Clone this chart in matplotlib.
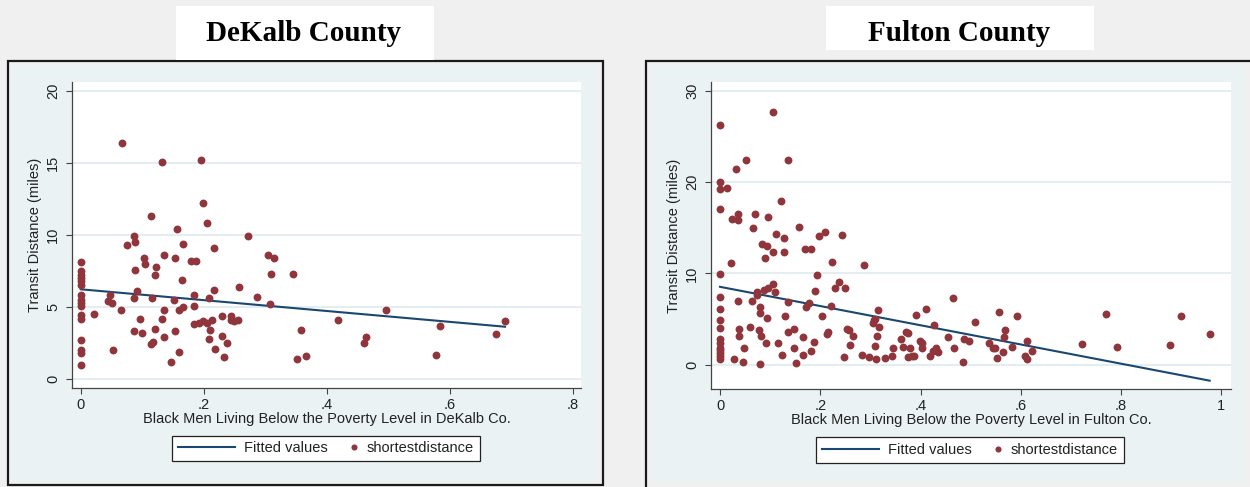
import matplotlib
matplotlib.use('Agg')
import matplotlib.pyplot as plt
from matplotlib.patches import Rectangle
from matplotlib.lines import Line2D
from matplotlib.legend_handler import HandlerBase

# ---- data ----
dekalb_x = [0, 0, 0, 0, 0, 0, 0, 0, 0, 0, 0, 0, 0, 0, 0, 0,
            0.022, 0.048, 0.044, 0.051, 0.065, 0.053, 0.067, 0.076, 0.087, 0.089,
            0.089, 0.092, 0.087, 0.096, 0.087, 0.099, 0.103, 0.105, 0.115, 0.116,
            0.121, 0.114, 0.117, 0.122, 0.121, 0.133, 0.135, 0.135, 0.132, 0.136,
            0.147, 0.154, 0.156, 0.154, 0.152, 0.160, 0.166, 0.166, 0.165, 0.160,
            0.179, 0.188, 0.185, 0.184, 0.184, 0.196, 0.199, 0.205, 0.217, 0.208,
            0.217, 0.193, 0.199, 0.206, 0.213, 0.210, 0.208, 0.218, 0.229, 0.230,
            0.238, 0.233, 0.244, 0.245, 0.249, 0.256, 0.257, 0.272, 0.287, 0.304,
            0.314, 0.309, 0.307, 0.345, 0.359, 0.352, 0.366, 0.419, 0.496, 0.460,
            0.464, 0.578, 0.584, 0.675, 0.690]
dekalb_y = [8.1, 7.5, 7.2, 7.0, 6.8, 6.5, 5.8, 5.5, 5.25, 5.05, 4.45, 4.2, 2.7, 2.0, 1.8, 1.0,
            4.5, 5.8, 5.4, 5.3, 4.8, 2.0, 16.4, 9.3, 9.9, 9.5,
            7.6, 6.1, 5.6, 4.2, 3.3, 3.2, 8.4, 8.0, 11.3, 5.6,
            3.5, 2.4, 2.6, 7.8, 7.2, 15.1, 8.6, 4.8, 4.2, 2.9,
            1.2, 3.3, 10.4, 8.4, 5.5, 4.8, 5.0, 9.4, 6.9, 1.9,
            8.2, 8.2, 5.8, 5.1, 3.8, 15.2, 12.2, 10.8, 9.1, 5.6,
            6.2, 3.9, 4.0, 3.9, 4.1, 3.4, 2.8, 2.1, 4.4, 3.0,
            2.5, 1.5, 4.4, 4.1, 4.0, 4.1, 6.4, 9.9, 5.7, 8.6,
            8.4, 7.3, 5.2, 7.3, 3.4, 1.4, 1.6, 4.1, 4.8, 2.5,
            2.9, 1.7, 3.7, 3.1, 4.0]
dekalb_fit_x = [0, 0.69]
dekalb_fit_y = [6.23, 3.63]

fulton_x = [0, 0, 0, 0, 0, 0, 0, 0, 0, 0, 0, 0, 0, 0, 0, 0,
            0.013, 0.021, 0.027, 0.031, 0.035, 0.037, 0.037, 0.024, 0.035, 0.035,
            0.045, 0.047, 0.051, 0.060, 0.064, 0.065, 0.070, 0.073, 0.073, 0.077,
            0.079, 0.080, 0.081, 0.080, 0.083, 0.090, 0.092, 0.093, 0.093, 0.095,
            0.087, 0.095, 0.105, 0.105, 0.106, 0.109, 0.112, 0.115, 0.123, 0.121,
            0.127, 0.128, 0.129, 0.135, 0.136, 0.135, 0.147, 0.147, 0.151, 0.158,
            0.165, 0.166, 0.169, 0.172, 0.177, 0.181, 0.182, 0.187, 0.189, 0.194,
            0.198, 0.204, 0.209, 0.214, 0.215, 0.222, 0.223, 0.229, 0.238, 0.243,
            0.248, 0.249, 0.254, 0.257, 0.260, 0.265, 0.283, 0.287, 0.297, 0.309,
            0.309, 0.305, 0.307, 0.311, 0.314, 0.316, 0.318, 0.329, 0.343, 0.345,
            0.361, 0.365, 0.371, 0.375, 0.375, 0.379, 0.383, 0.388, 0.392, 0.399,
            0.403, 0.402, 0.410, 0.419, 0.425, 0.427, 0.431, 0.435, 0.454, 0.465,
            0.467, 0.485, 0.487, 0.496, 0.508, 0.537, 0.544, 0.549, 0.552, 0.556,
            0.565, 0.567, 0.569, 0.583, 0.593, 0.608, 0.613, 0.612, 0.623, 0.722,
            0.771, 0.793, 0.897, 0.919, 0.977]
fulton_y = [26.2, 20.0, 19.2, 17.0, 9.9, 7.4, 6.1, 4.9, 4.0, 2.8, 2.4, 1.9, 1.6, 1.3, 1.0, 0.7,
            19.3, 11.1, 0.6, 21.4, 7.0, 3.9, 3.2, 15.9, 16.5, 15.8,
            0.3, 1.9, 22.4, 4.1, 7.0, 15.0, 16.5, 8.0, 7.7, 3.8,
            6.3, 5.7, 3.2, 0.1, 13.2, 11.7, 2.4, 13.0, 5.1, 16.2,
            8.2, 8.4, 27.7, 12.3, 8.9, 8.0, 14.3, 2.4, 1.1, 17.9,
            13.9, 12.3, 5.3, 6.9, 22.4, 3.6, 3.9, 1.9, 0.2, 15.1,
            3.0, 1.1, 12.7, 6.3, 6.8, 12.7, 1.5, 2.5, 8.1, 9.8,
            14.1, 5.4, 14.5, 3.4, 3.6, 6.4, 11.2, 8.4, 9.1, 14.2,
            0.9, 8.4, 3.9, 3.8, 2.2, 3.2, 1.1, 10.9, 0.9, 2.1,
            5.0, 4.6, 4.9, 0.7, 3.2, 6.0, 4.2, 0.8, 1.0, 1.9,
            2.8, 2.0, 3.6, 3.5, 0.9, 1.9, 1.0, 1.0, 5.5, 2.6,
            2.4, 1.9, 6.1, 1.0, 1.5, 4.4, 1.9, 1.4, 3.1, 7.3,
            1.9, 0.3, 2.8, 2.6, 4.7, 2.4, 1.9, 1.9, 0.8, 5.8,
            1.4, 3.0, 3.8, 2.0, 5.3, 1.0, 0.6, 2.6, 1.5, 2.3,
            5.6, 2.0, 2.2, 5.4, 3.4]
fulton_fit_x = [0, 0.977]
fulton_fit_y = [8.54, -1.72]

dekalb_xticks = [0, 0.2, 0.4, 0.6, 0.8]
dekalb_xlabels = ['0', '.2', '.4', '.6', '.8']
dekalb_yticks = [0, 5, 10, 15, 20]
fulton_xticks = [0, 0.2, 0.4, 0.6, 0.8, 1.0]
fulton_xlabels = ['0', '.2', '.4', '.6', '.8', '1']
fulton_yticks = [0, 10, 20, 30]

W, H = 1250, 487
NAVY = '#1a476f'
MAROON = '#90353b'
PANEL = '#eaf2f3'
BG = '#f0f0f0'
FS = 10.5

plt.rcParams['font.family'] = ['Liberation Sans', 'DejaVu Sans']


def box(x0, y0, x1, y1):
    # pixel box (top-left origin) -> figure fractions
    return [x0 / W, 1 - y1 / H, (x1 - x0) / W, (y1 - y0) / H]


class DotHandler(HandlerBase):
    def create_artists(self, legend, orig_handle, xdescent, ydescent,
                       width, height, fontsize, trans):
        x = width - xdescent - 0.3 * fontsize
        y = (height - ydescent) / 2
        dot = Line2D([x], [y], marker='o', ls='none', color=orig_handle.get_color(),
                     markersize=orig_handle.get_markersize(), markeredgewidth=0)
        dot.set_transform(trans)
        return [dot]


fig = plt.figure(figsize=(W / 100, H / 100), dpi=100)
fig.patch.set_facecolor(BG)


def panel(frame, inner, plot, title_box, title, title_xy, xs, ys, fx, fy,
          xlim, ylim, xticks, xlabels, yticks, xlabel, legend_xy):
    bx = box(*frame)
    fig.patches.append(Rectangle((bx[0], bx[1]), bx[2], bx[3], transform=fig.transFigure,
                                 facecolor=BG, edgecolor='#1a1a1a', lw=1.6, zorder=-3))
    bi = box(*inner)
    fig.patches.append(Rectangle((bi[0], bi[1]), bi[2], bi[3], transform=fig.transFigure,
                                 facecolor=PANEL, edgecolor='none', zorder=-2))
    bt = box(*title_box)
    fig.patches.append(Rectangle((bt[0], bt[1]), bt[2], bt[3], transform=fig.transFigure,
                                 facecolor='white', edgecolor='none', zorder=-1))
    fig.text(title_xy[0] / W, 1 - title_xy[1] / H, title, ha='center', va='baseline',
             family='Liberation Serif', weight='bold', fontsize=21, zorder=2)

    ax = fig.add_axes(box(*plot))
    ax.set_zorder(5)
    ax.set_facecolor('white')
    ax.plot(fx, fy, color=NAVY, lw=1.5, zorder=2, label='Fitted values')
    ax.scatter(xs, ys, s=32, color=MAROON, linewidths=0, zorder=3)
    ax.set_xlim(*xlim)
    ax.set_ylim(*ylim)
    ax.set_xticks(xticks)
    ax.set_xticklabels(xlabels)
    ax.set_yticks(yticks)
    ax.yaxis.grid(True, color='#e4edef', lw=1.5)
    ax.set_axisbelow(True)
    for s in ('top', 'right'):
        ax.spines[s].set_visible(False)
    for s in ('left', 'bottom'):
        ax.spines[s].set_color('#444444')
        ax.spines[s].set_linewidth(0.9)
    ax.tick_params(direction='out', length=4.5, width=0.8, color='#444444',
                   labelsize=FS, labelcolor='#222222', pad=2.5)
    ax.tick_params(axis='y', labelrotation=90, pad=4)
    for lab in ax.get_yticklabels():
        lab.set_va('center')
    ax.set_xlabel(xlabel, fontsize=FS, color='#222222', labelpad=0)
    ax.set_ylabel('Transit Distance (miles)', fontsize=FS, color='#222222', labelpad=3)

    h_line = Line2D([], [], color=NAVY, lw=1.5)
    h_dot = Line2D([], [], color=MAROON, marker='o', ls='none', markersize=4.4)
    leg = ax.legend([h_line, h_dot], ['Fitted values', 'shortestdistance'], ncol=2,
                    loc='center', bbox_to_anchor=(legend_xy[0] / W, 1 - legend_xy[1] / H),
                    bbox_transform=fig.transFigure, handler_map={h_dot: DotHandler()},
                    fontsize=FS, handlelength=3.9, handletextpad=0.6, columnspacing=-1.8,
                    borderpad=0.4, fancybox=False, framealpha=1, edgecolor='#222222')
    leg.get_frame().set_linewidth(0.9)
    for t in leg.get_texts():
        t.set_color('#222222')
    return ax


panel((7.5, 61, 603, 485), (11, 66, 598, 482), (72, 82, 581, 388),
      (176, 5.7, 434, 59.5), 'DeKalb County', (304, 40.7),
      dekalb_x, dekalb_y, dekalb_fit_x, dekalb_fit_y,
      (-0.01415, 0.8135), (-0.625, 20.625), dekalb_xticks, dekalb_xlabels, dekalb_yticks,
      'Black Men Living Below the Poverty Level in DeKalb Co.', (326, 448.5))

panel((646, 61, 1262, 500), (652, 66, 1245, 482), (711, 82, 1231, 389),
      (826, 5.7, 1094, 50), 'Fulton County', (959.5, 40.7),
      fulton_x, fulton_y, fulton_fit_x, fulton_fit_y,
      (-0.018, 1.0195), (-2.63, 30.93), fulton_xticks, fulton_xlabels, fulton_yticks,
      'Black Men Living Below the Poverty Level in Fulton Co.', (970, 450))

fig.savefig('out.png', dpi=100, facecolor=fig.get_facecolor())
